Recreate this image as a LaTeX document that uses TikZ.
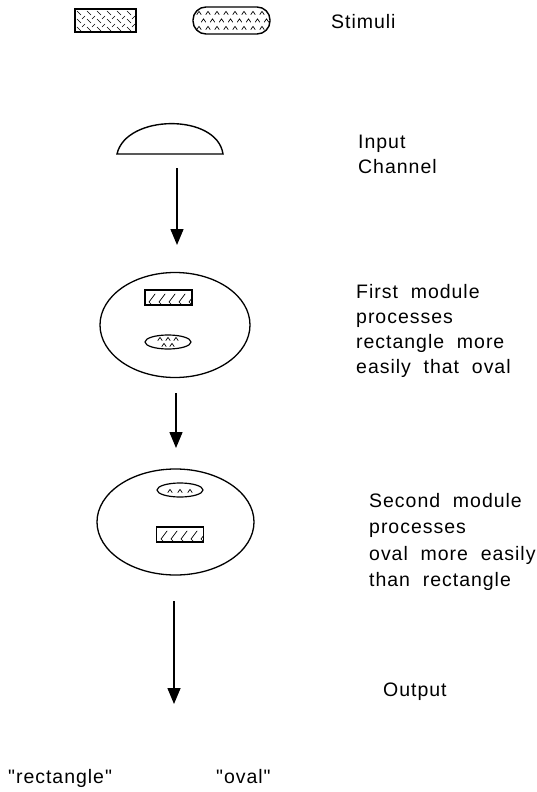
\documentclass[tikz,border=0pt]{standalone}
\usepackage{fontspec}
\setmainfont{Liberation Sans}[LetterSpace=5,WordSpace=2.0,Ligatures=TeXOff]
\usetikzlibrary{arrows.meta,shapes.geometric}

\tikzset{
  outline/.style={line width=1.4pt},
  hatch/.style={line width=0.7pt, line cap=round},
  arr/.style={line width=1.5pt, -{Triangle[width=13pt,length=16pt]}},
  txt/.style={anchor=base west, inner sep=0pt, align=left,
    font=\fontsize{19.5}{25}\selectfont},
  module/.style={ellipse, draw, line width=1.3pt, inner sep=0pt},
  chip/.style={ellipse, draw, line width=1.2pt, inner sep=0pt,
    minimum width=46pt, minimum height=14pt},
  bar/.style={rectangle, draw, line width=1.2pt, inner sep=0pt,
    minimum width=47pt, minimum height=15pt},
}

% "^" mark used inside oval shapes
\newcommand{\caret}[2]{\draw[hatch] (#1-2.2,#2+1.6) -- (#1,#2-1.6) -- (#1+2.2,#2+1.6);}

\begin{document}
\begin{tikzpicture}[x=1pt,y=-1pt]
\useasboundingbox (0,0) rectangle (537,792);

% ---- stimuli ----
\node[rectangle, draw, outline, inner sep=0pt, minimum width=61pt,
  minimum height=23pt] (srect) at (105.5,20.5) {};
\begin{scope}
  \clip (75,9) rectangle (136,32);
  \foreach \i in {0,...,6} \foreach \j in {0,...,2} {
    \draw[hatch] ({75+\i*10+2},{9+\j*8+2}) -- ++(4,4);
    \draw[hatch] ({75+\i*10+7},{9+\j*8+10}) -- ++(3,-3);
  }
\end{scope}

\node[rectangle, rounded corners=13pt, draw, outline, inner sep=0pt,
  minimum width=77pt, minimum height=27pt] (soval) at (231.5,20.5) {};
\begin{scope}
  \clip[rounded corners=13pt] (193,7) rectangle (270,34);
  \foreach \i in {0,...,8} {
    \caret{199+\i*9}{13}
    \caret{203.5+\i*9}{20.5}
    \caret{199+\i*9}{28}
  }
\end{scope}

\node[txt] (tstim) at (331,29) {Stimuli};

% ---- input channel ----
\draw[outline] (117,154) .. controls (126,114) and (217,113) .. (223,154) -- cycle;
\coordinate (a1s) at (177,168);
\coordinate (a1e) at (177,245);
\node[txt] (tin) at (358,173.5) {Input\\Channel};

% ---- first module ----
\node[module, minimum width=150pt, minimum height=105pt] (mod1) at (175,325) {};
\node[bar] (r1) at (168.5,297.5) {};
\begin{scope}
  \clip (145,290) rectangle (192,305);
  \foreach \i in {0,...,4} {
    \draw[hatch] ({149+\i*10},{302}) -- ++(6,-8);
    \draw[hatch] ({149+\i*10},{302}) -- ++(2,2);
  }
\end{scope}
\node[chip] (o1) at (168,342) {};
\foreach \x in {160,168,176} { \caret{\x}{339} }
\foreach \x in {164,172} { \caret{\x}{345} }
\node[txt] (tm1) at (356,373) {First module\\processes\\rectangle more\\easily that oval};

% ---- second module ----
\node[module, minimum width=157pt, minimum height=106pt] (mod2) at (175.5,522) {};
\node[chip] (o2) at (180,490) {};
\foreach \x in {170,180,190} { \caret{\x}{491} }
\node[bar] (r2) at (180,534.5) {};
\begin{scope}
  \clip (157,527) rectangle (203,542);
  \foreach \i in {0,...,4} {
    \draw[hatch] ({161+\i*10},{539}) -- ++(6,-8);
    \draw[hatch] ({161+\i*10},{539}) -- ++(2,2);
  }
\end{scope}
\node[txt, font=\fontsize{19.5}{26.5}\selectfont] (tm2) at (369,586.5)
  {Second module\\processes\\oval more easily\\than rectangle};

% ---- output ----
\node[txt] (tout) at (383,696) {Output};
\node[txt] (trect) at (8,783) {"rectangle"};
\node[txt] (toval) at (216,783) {"oval"};

% ---- arrows ----
\draw[arr] (a1s) -- (a1e);
\coordinate (a2s) at (176,393);
\coordinate (a2e) at (176,448);
\draw[arr] (a2s) -- (a2e);
\coordinate (a3s) at (174,601);
\coordinate (a3e) at (174,704);
\draw[arr] (a3s) -- (a3e);
\end{tikzpicture}
\end{document}
